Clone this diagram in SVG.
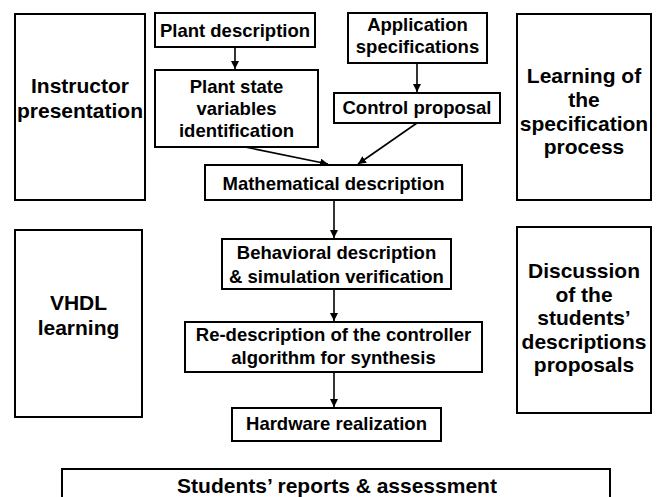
<svg xmlns="http://www.w3.org/2000/svg" width="657" height="497" viewBox="0 0 657 497">
<style>
.box{fill:#fff;stroke:#000;stroke-width:2}
.t{font-family:"Liberation Sans",Arial,sans-serif;font-weight:bold;fill:#000;text-anchor:middle}
.s{font-size:18.5px}
.l{font-size:21px}
.c{stroke:#000;stroke-width:1.6;fill:none;marker-end:url(#ah)}
</style>
<defs>
<marker id="ah" viewBox="0 0 10 10" refX="10" refY="5" markerWidth="5" markerHeight="5" orient="auto" markerUnits="strokeWidth">
<path d="M0,0 L10,5 L0,10 z" fill="#000"/>
</marker>
</defs>
<rect width="657" height="497" fill="#fff"/>
<g id="instructor">
<rect class="box" x="15" y="14" width="130" height="186"/>
<text class="t l" x="80" y="93">Instructor</text>
<text class="t l" x="80" y="118">presentation</text>
</g>
<g id="learning">
<rect class="box" x="517" y="14" width="134" height="186"/>
<text class="t l" x="584" y="83">Learning of</text>
<text class="t l" x="584" y="107">the</text>
<text class="t l" x="584" y="131">specification</text>
<text class="t l" x="584" y="154">process</text>
</g>
<g id="vhdl">
<rect class="box" x="15" y="230" width="127" height="187"/>
<text class="t l" x="78.5" y="310">VHDL</text>
<text class="t l" x="78.5" y="335">learning</text>
</g>
<g id="discussion">
<rect class="box" x="517" y="227" width="134" height="186"/>
<text class="t l" x="584" y="278">Discussion</text>
<text class="t l" x="584" y="302">of the</text>
<text class="t l" x="584" y="325">students’</text>
<text class="t l" x="584" y="349">descriptions</text>
<text class="t l" x="584" y="372">proposals</text>
</g>
<g id="plantdesc">
<rect class="box" x="155" y="13" width="160" height="34"/>
<text class="t s" x="235" y="37">Plant description</text>
</g>
<g id="plantstate">
<rect class="box" x="155" y="70" width="163" height="77"/>
<text class="t s" x="236.5" y="93">Plant state</text>
<text class="t s" x="236.5" y="115">variables</text>
<text class="t s" x="236.5" y="137">identification</text>
</g>
<g id="appspec">
<rect class="box" x="348" y="13" width="139" height="50"/>
<text class="t s" x="417.5" y="31">Application</text>
<text class="t s" x="417.5" y="53">specifications</text>
</g>
<g id="control">
<rect class="box" x="334" y="93" width="166" height="30"/>
<text class="t s" x="417" y="114">Control proposal</text>
</g>
<g id="math">
<rect class="box" x="205" y="165" width="257" height="35"/>
<text class="t s" x="333.5" y="190">Mathematical description</text>
</g>
<g id="behavioral">
<rect class="box" x="222" y="239" width="229" height="50"/>
<text class="t s" x="336.5" y="259">Behavioral description</text>
<text class="t s" x="336.5" y="283">&amp; simulation verification</text>
</g>
<g id="redesc">
<rect class="box" x="185" y="322" width="297" height="50"/>
<text class="t s" x="333.5" y="341">Re-description of the controller</text>
<text class="t s" x="333.5" y="364">algorithm for synthesis</text>
</g>
<g id="hardware">
<rect class="box" x="232" y="408" width="209" height="33"/>
<text class="t s" x="336.5" y="430">Hardware realization</text>
</g>
<g id="students">
<rect class="box" x="62" y="469" width="548" height="40"/>
<text class="t l" x="337" y="493">Students’ reports &amp; assessment</text>
</g>
<g id="connectors">
<line class="c" x1="235" y1="47" x2="235" y2="69"/>
<line class="c" x1="417" y1="63" x2="417" y2="92"/>
<line class="c" x1="245" y1="147" x2="328" y2="164"/>
<line class="c" x1="417" y1="123" x2="358" y2="164"/>
<line class="c" x1="334" y1="200" x2="334" y2="238"/>
<line class="c" x1="334" y1="289" x2="334" y2="321"/>
<line class="c" x1="334" y1="372" x2="334" y2="407"/>
</g>
</svg>
